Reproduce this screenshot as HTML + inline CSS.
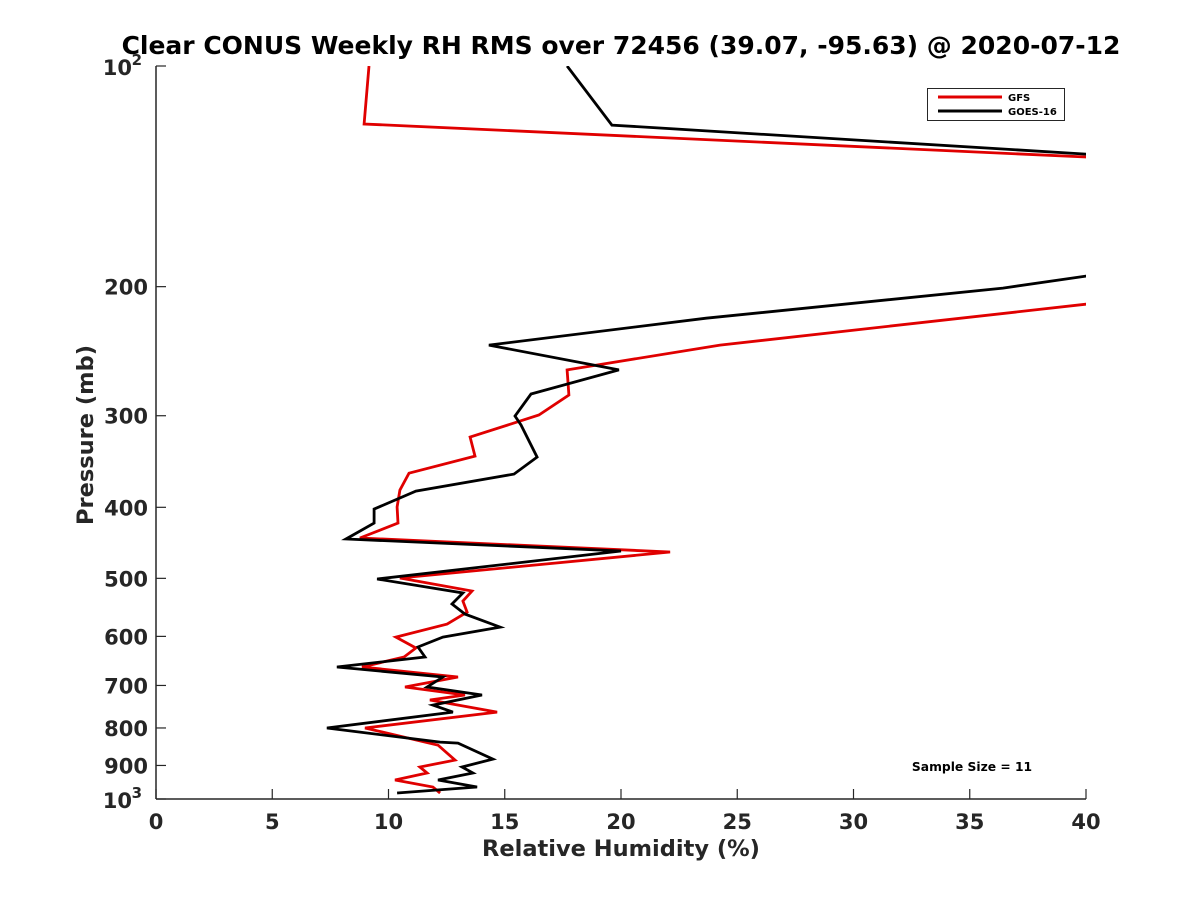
<!DOCTYPE html>
<html><head><meta charset="utf-8"><style>
html,body{margin:0;padding:0;background:#fff;}
svg{display:block;font-family:"DejaVu Sans","Liberation Sans",sans-serif;font-weight:bold;}
</style></head><body>
<svg id="chart" width="1200" height="900" viewBox="0 0 1200 900">
<defs><clipPath id="pc"><rect x="156" y="66" width="930" height="733"/></clipPath></defs>
<text x="621" y="54" text-anchor="middle" font-size="25" fill="#000">Clear CONUS Weekly RH RMS over 72456 (39.07, -95.63) @ 2020-07-12</text>
<g id="axes"></g>
<g id="series" clip-path="url(#pc)"></g>
<text x="621" y="856" text-anchor="middle" font-size="22.5" fill="#262626">Relative Humidity (%)</text>
<text x="0" y="0" transform="translate(93,435) rotate(-90)" text-anchor="middle" font-size="22.5" fill="#262626">Pressure (mb)</text>
<g>
<rect x="927.5" y="88.5" width="137" height="32" fill="#fff" stroke="#262626" stroke-width="1"/>
<line x1="938" y1="97" x2="1002" y2="97" stroke="#e00000" stroke-width="3"/>
<text x="1008" y="101" font-size="10" fill="#000">GFS</text>
<line x1="938" y1="111" x2="1002" y2="111" stroke="#000" stroke-width="3"/>
<text x="1008" y="115" font-size="10" fill="#000">GOES-16</text>
</g>
<text x="972" y="771" text-anchor="middle" font-size="12.3" fill="#000">Sample Size = 11</text>
</svg>
<script>
const xTicks = [0,5,10,15,20,25,30,35,40];
const yTicks = [100,200,300,400,500,600,700,800,900,1000];
const gfsRH = [9.16,8.95,40,55,40,24.26,17.68,17.76,16.47,13.51,13.72,10.88,10.49,10.37,10.41,8.77,22.11,10.49,13.59,13.20,13.38,12.52,10.32,11.18,10.67,8.86,12.99,10.71,13.29,11.78,14.67,8.99,12.13,12.86,11.35,11.66,10.28,11.91,12.22];
const gfsP = [100,120.0,133.1,170,211.3,240.3,259.8,281.1,299.3,320.8,340.6,359.3,378.9,399.6,420.3,440.5,460.3,499.5,520.3,537.0,555.9,577.2,601.3,622.3,640.2,660.6,681.7,703.5,721.4,732.8,761.0,800.2,844.2,885.0,904.4,921.6,942.1,962.9,981.3];
const goesRH = [17.68,19.61,40,55,40,36.43,23.66,14.32,19.91,16.13,15.44,15.70,16.39,15.40,11.18,9.38,9.38,8.17,20.0,9.51,13.20,12.73,13.29,14.80,12.34,11.27,11.57,7.78,12.34,11.66,14.02,11.91,12.77,7.35,12.22,12.99,14.49,13.16,13.63,12.13,13.81,10.37];
const goesP = [100,120.4,131.9,165,193.5,200.9,220.8,240.3,259.8,280.2,300.3,308.9,341.6,360.4,380.2,402.2,420.3,441.9,458.9,501.1,523.6,542.0,559.4,582.7,601.3,620.4,640.2,660.6,681.7,703.5,721.4,744.5,761.0,800.2,836.2,838.9,882.1,904.4,921.6,942.1,962.9,981.3];

const X0=156,X1=1086,Y0=66,Y1=799;
const xs = v => X0 + (v-0)/(40-0)*(X1-X0);
const ys = p => Y0 + Math.log10(p/100)*(Y1-Y0);
const NS='http://www.w3.org/2000/svg';
function mk(tag, attrs, parent){const e=document.createElementNS(NS,tag);for(const k in attrs)e.setAttribute(k,attrs[k]);parent.appendChild(e);return e;}
const axes=document.getElementById('axes');
const series=document.getElementById('series');

let a=mk('line',{x1:X0,y1:Y0,x2:X0,y2:Y1,stroke:'#262626','stroke-width':1.5},axes);


a=mk('line',{x1:X0,y1:Y1,x2:X1,y2:Y1,stroke:'#262626','stroke-width':1.5},axes);



xTicks.forEach(v=>{
  const x=xs(v);
  const t=mk('line',{x1:x,y1:Y1,x2:x,y2:Y1-10,stroke:'#262626','stroke-width':1.2},axes);
  
  
  const l=mk('text',{x:x,y:Y1+30,'text-anchor':'middle','font-size':21,fill:'#262626'},axes);
  l.textContent=String(v);
  
  
});
yTicks.forEach(p=>{
  const y=ys(p);
  const t=mk('line',{x1:X0,y1:y,x2:X0+10,y2:y,stroke:'#262626','stroke-width':1.2},axes);
  
  
  const l=mk('text',{x:X0-8,y:y+8,'text-anchor':'end','font-size':21,fill:'#262626'},axes);
  if(p===100||p===1000){
    l.textContent='10';
    const s=mk('tspan',{dy:-10,'font-size':15},l);
    s.textContent=p===100?'2':'3';
    l.setAttribute('x',X0-24);
    l.setAttribute('y',y+9);
    l.setAttribute('text-anchor','end');
    s.setAttribute('x',X0-14);
  } else l.textContent=String(p);
  
  
});

function draw(vals,ps,color,name){
  const pts=vals.map((v,i)=>xs(v).toFixed(1)+','+ys(ps[i]).toFixed(1)).join(' ');
  const pl=mk('polyline',{points:pts,fill:'none',stroke:color,'stroke-width':2.8,'stroke-linejoin':'miter'},series);
  
  
}
draw(gfsRH,gfsP,'#e00000','gfs-line');
draw(goesRH,goesP,'#000000','goes16-line');
</script>
</body></html>
